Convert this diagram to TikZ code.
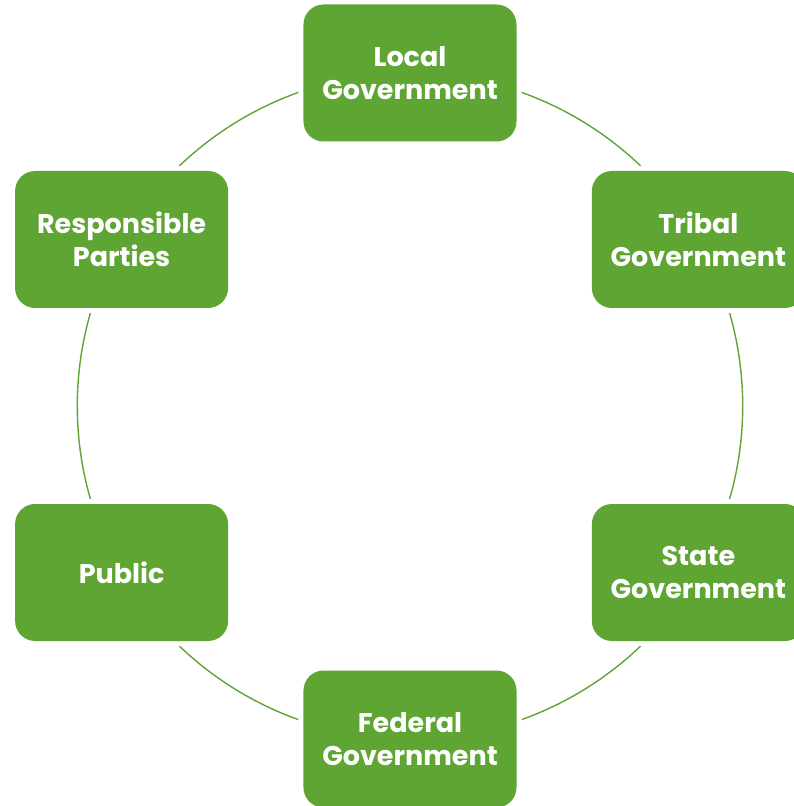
\documentclass[tikz,border=0pt]{standalone}
\usepackage{fontspec}
\setmainfont{Poppins}
\usepackage{tikz}
\usetikzlibrary{backgrounds}
\definecolor{leaf}{RGB}{95,165,52}
\tikzstyle{box}=[rectangle,rounded corners=20pt,fill=leaf,text=white,
                minimum width=213pt,minimum height=137pt,inner sep=0,
                align=center,font=\fontsize{27}{33}\selectfont\bfseries,
                preaction={draw=white,line width=10pt}]
\tikzstyle{ring}=[draw=leaf,line width=1.4pt,bend left=30,looseness=0.91]

\begin{document}
\begin{tikzpicture}[x=1pt,y=1pt]
\useasboundingbox (-410,-400) rectangle (384,406);
\node[box] (loc) at (90:333) {Local\\Government};
\node[box] (tri) at (30:333) {Tribal\\Government};
\node[box] (sta) at (-30:333) {State\\Government};
\node[box] (fed) at (-90:333) {Federal\\Government};
\node[box] (pub) at (-150:333) {Public};
\node[box] (res) at (150:333) {Responsible\\Parties};
\begin{scope}[on background layer]
\foreach \a/\b in {loc/tri,tri/sta,sta/fed,fed/pub,pub/res,res/loc}
\draw[ring] (\a.center) to (\b.center);
\end{scope}
\end{tikzpicture}
\end{document}
